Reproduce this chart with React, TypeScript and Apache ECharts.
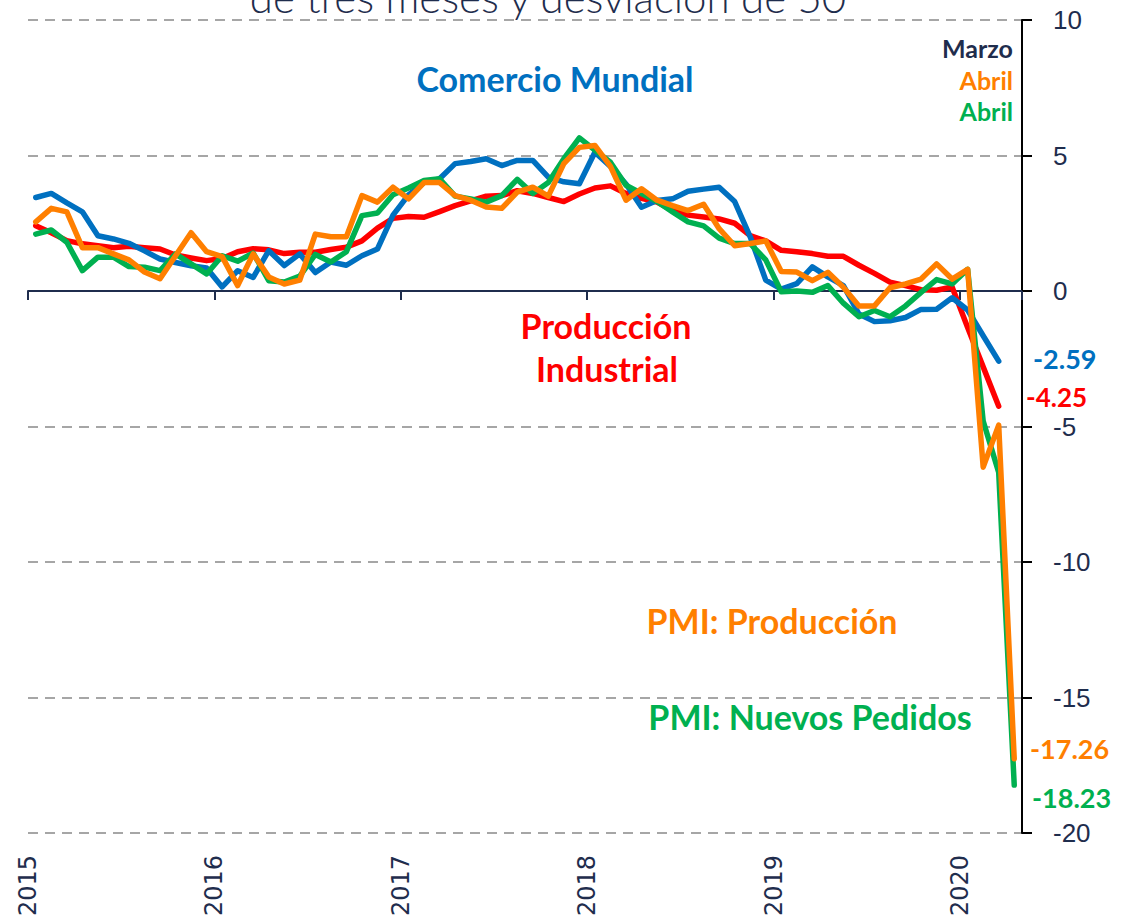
import React, { useEffect, useRef } from "react";
import * as echarts from "echarts";

// Monthly data, Jan 2015 .. Apr 2020 (index 0 = Jan 2015)
const yearLabels = ["2015", "2016", "2017", "2018", "2019", "2020"];

const comercioMundial = [
  3.45, 3.6, 3.25, 2.92, 2.04, 1.92, 1.76, 1.48, 1.18, 1.05, 0.93, 0.85,
  0.15, 0.75, 0.5, 1.49, 0.94, 1.37, 0.68, 1.07, 0.95, 1.3, 1.55, 2.8,
  3.55, 4.0, 4.14, 4.7, 4.78, 4.88, 4.63, 4.82, 4.82, 4.2, 4.03, 3.96,
  5.12, 4.6, 3.95, 3.09, 3.34, 3.4, 3.68, 3.76, 3.83, 3.3, 2.0, 0.4,
  0.07, 0.27, 0.89, 0.52, 0.2, -0.85, -1.13, -1.1, -0.98, -0.68, -0.67, -0.25,
  -0.7, -1.65, -2.59,
];

const produccionIndustrial = [
  2.41, 2.15, 1.86, 1.74, 1.67, 1.6, 1.65, 1.6, 1.55, 1.33, 1.22, 1.12,
  1.2, 1.45, 1.56, 1.52, 1.38, 1.43, 1.43, 1.53, 1.62, 1.85, 2.32, 2.68,
  2.75, 2.72, 2.93, 3.15, 3.33, 3.5, 3.52, 3.7, 3.6, 3.45, 3.3, 3.58,
  3.8, 3.88, 3.6, 3.42, 3.28, 2.97, 2.8, 2.73, 2.66, 2.5, 2.04, 1.85,
  1.5, 1.45, 1.38, 1.28, 1.28, 0.95, 0.65, 0.33, 0.2, 0.05, 0.03, 0.15,
  -1.35, -2.8, -4.25,
];

const pmiNuevosPedidos = [
  2.1, 2.25, 1.8, 0.75, 1.25, 1.25, 0.9, 0.88, 0.75, 1.37, 1.0, 0.63,
  1.3, 1.1, 1.4, 0.38, 0.33, 0.55, 1.35, 1.07, 1.45, 2.78, 2.88, 3.55,
  3.8, 4.08, 4.14, 3.5, 3.4, 3.28, 3.52, 4.12, 3.6, 4.0, 4.88, 5.65,
  5.2, 4.75, 3.9, 3.6, 3.3, 2.92, 2.55, 2.4, 1.95, 1.75, 1.75, 1.15,
  -0.03, 0.0, -0.05, 0.2, -0.45, -0.95, -0.72, -0.95, -0.55, -0.05, 0.42, 0.26,
  0.8, -4.8, -6.7, -18.23,
];

const pmiProduccion = [
  2.55, 3.05, 2.92, 1.6, 1.6, 1.37, 1.15, 0.7, 0.45, 1.3, 2.15, 1.45,
  1.27, 0.2, 1.37, 0.52, 0.26, 0.4, 2.1, 2.0, 2.0, 3.52, 3.28, 3.83,
  3.4, 4.0, 4.0, 3.52, 3.35, 3.1, 3.05, 3.65, 3.83, 3.5, 4.7, 5.3,
  5.37, 4.6, 3.35, 3.77, 3.35, 3.15, 2.97, 3.2, 2.3, 1.67, 1.75, 1.85,
  0.72, 0.7, 0.38, 0.69, 0.14, -0.55, -0.55, 0.12, 0.26, 0.44, 1.0, 0.44,
  0.8, -6.5, -4.95, -17.26,
];

const yTicks = { min: -20, max: 10, interval: 5 };

const BLUE = "#0070C0";
const RED = "#FF0000";
const ORANGE = "#FF7F00";
const GREEN = "#00B050";
const NAVY = "#1F2D4D";
const LABEL_FONT = "Lato, 'Open Sans', sans-serif";

const toPoints = (arr: number[]) => arr.map((v, i) => [i + 0.5, v]);

function txt(text: string, x: number, y: number, color: string, size: number, align = "center", weight: any = "bold") {
  return {
    type: "text",
    x,
    y,
    silent: true,
    style: {
      text,
      fill: color,
      fontSize: size,
      fontWeight: weight,
      fontFamily: LABEL_FONT,
      align,
      verticalAlign: "middle",
    },
  };
}

export default function App() {
  const ref = useRef<HTMLDivElement>(null);
  useEffect(() => {
    if (!ref.current) return;
    const chart = echarts.init(ref.current, null, { renderer: "svg" });
    const nMonths = yearLabels.length * 12 - 8; // 64 months
    const lineSeries = (name: string, data: number[], color: string, z: number) => ({
      name,
      type: "line",
      xAxisIndex: 0,
      yAxisIndex: 0,
      data: toPoints(data),
      showSymbol: false,
      symbol: "none",
      z,
      lineStyle: { color, width: 5.5, cap: "round", join: "round" },
      emphasis: { disabled: true },
    });
    chart.setOption({
      animation: false,
      backgroundColor: "#ffffff",
      grid: { left: 28, right: 118, top: 20, bottom: 88, containLabel: false },
      xAxis: [
        {
          type: "value",
          min: 0,
          max: nMonths,
          interval: 12,
          position: "bottom",
          axisLine: { show: true, onZero: true, lineStyle: { color: NAVY, width: 2 } },
          axisTick: { show: true, length: 9, lineStyle: { color: NAVY, width: 2 } },
          axisLabel: { show: false },
          splitLine: { show: false },
        },
        {
          type: "value",
          min: 0,
          max: nMonths,
          interval: 12,
          position: "bottom",
          axisLine: { show: false, onZero: false },
          axisTick: { show: false },
          splitLine: { show: false },
          axisLabel: {
            show: true,
            rotate: 90,
            margin: 22,
            showMaxLabel: false,
            fontFamily: "'DejaVu Sans', sans-serif",
            fontSize: 24,
            color: NAVY,
            formatter: (v: number) => (v % 12 === 0 ? yearLabels[v / 12] ?? "" : ""),
          },
        },
      ],
      yAxis: {
        type: "value",
        position: "right",
        min: yTicks.min,
        max: yTicks.max,
        interval: yTicks.interval,
        axisLine: { show: true, onZero: false, lineStyle: { color: "#000000", width: 2 } },
        axisTick: { show: true, length: 10, lineStyle: { color: "#000000", width: 2 } },
        axisLabel: {
          margin: 31,
          fontSize: 26,
          color: NAVY,
          fontFamily: "'Liberation Sans', Arial, sans-serif",
        },
        splitLine: { show: true, lineStyle: { type: [10, 7], color: "#A6A6A6", width: 2 } },
      },
      series: [
        lineSeries("Producción Industrial", produccionIndustrial, RED, 2),
        lineSeries("Comercio Mundial", comercioMundial, BLUE, 3),
        lineSeries("PMI: Nuevos Pedidos", pmiNuevosPedidos, GREEN, 4),
        lineSeries("PMI: Producción", pmiProduccion, ORANGE, 5),
      ],
      graphic: [
        {
          type: "text",
          x: 548,
          y: -3,
          silent: true,
          style: {
            text: "de tres meses y desviación de 50",
            fill: NAVY,
            fontSize: 42,
            fontWeight: 300,
            fontFamily: LABEL_FONT,
            align: "center",
            verticalAlign: "middle",
          },
        },
        txt("Comercio Mundial", 555, 78, BLUE, 34),
        txt("Producción", 606, 325, RED, 34),
        txt("Industrial", 607, 368, RED, 34),
        txt("PMI: Producción", 772, 620, ORANGE, 34),
        txt("PMI: Nuevos Pedidos", 810, 716, GREEN, 34),
        txt("-2.59", 1033, 358, BLUE, 27, "left"),
        txt("-4.25", 1026, 397, RED, 26, "left"),
        txt("-17.26", 1030, 748, ORANGE, 27, "left"),
        txt("-18.23", 1032, 797, GREEN, 27, "left"),
        txt("Marzo", 1013, 48, NAVY, 25, "right"),
        txt("Abril", 1013, 80, ORANGE, 25, "right"),
        txt("Abril", 1013, 111, GREEN, 25, "right"),
      ],
    });
    return () => chart.dispose();
  }, []);
  return (
    <div
      ref={ref}
      style={{ position: "absolute", left: 0, top: 0, width: 1140, height: 921, background: "#fff" }}
    />
  );
}
